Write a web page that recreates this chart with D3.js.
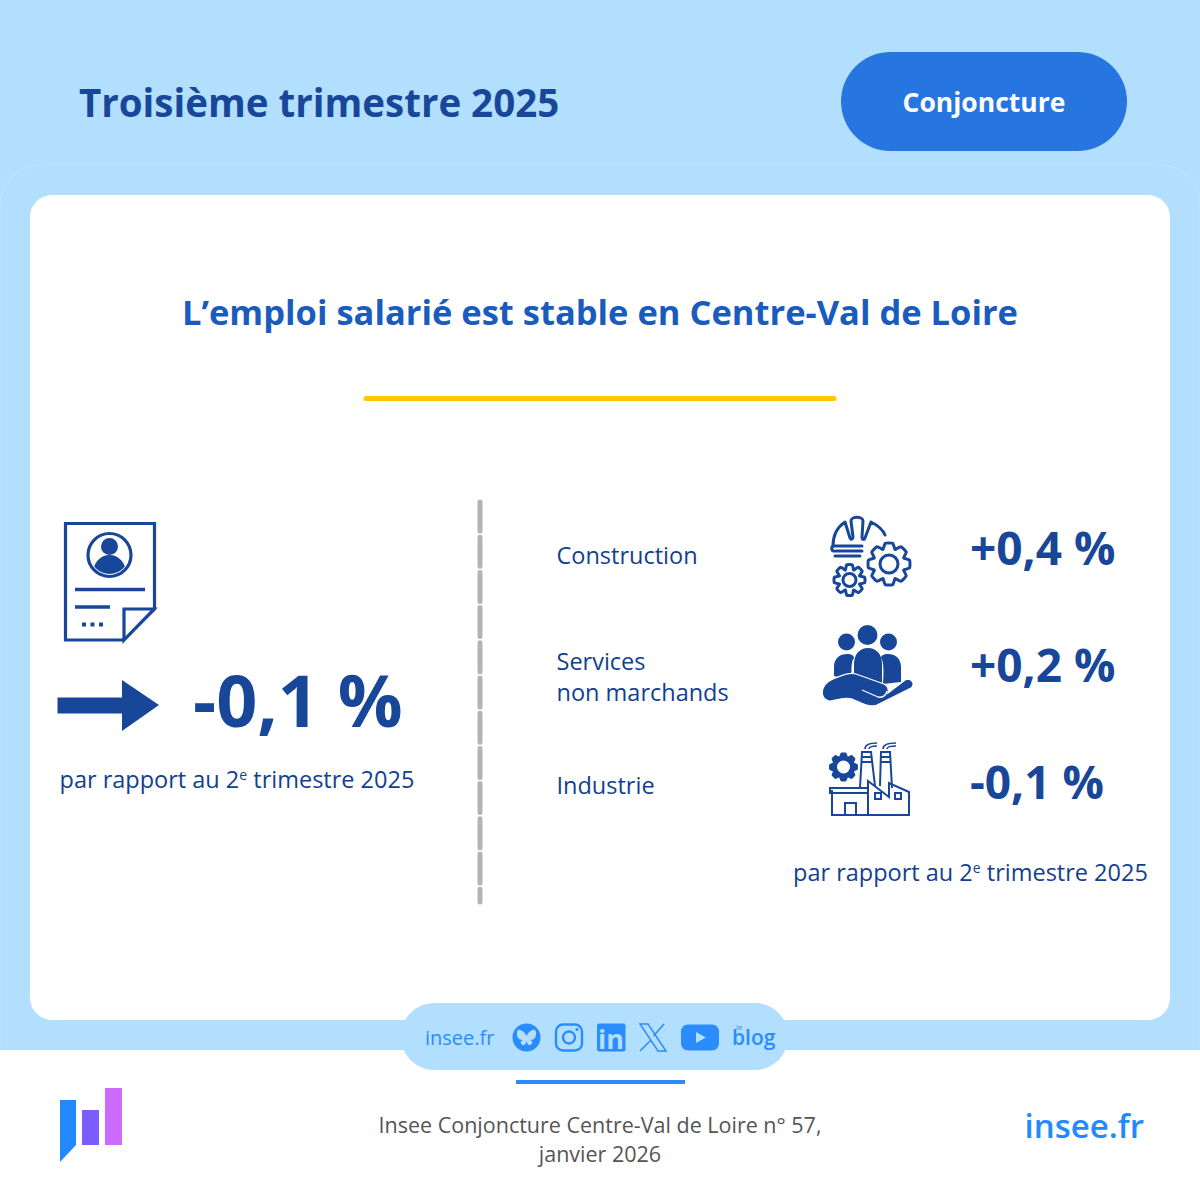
<!DOCTYPE html>
<html>
<head>
<meta charset="utf-8">
<script src="https://cdn.jsdelivr.net/npm/d3@7"></script>
<style>
html,body{margin:0;padding:0;background:#fff}
svg{display:block}
text{font-family:"Open Sans",sans-serif}
</style>
</head>
<body>
<svg id="chart"></svg>
<script>
const titleText = "Troisième trimestre 2025";
const tagText = "Conjoncture";
const headline = "L’emploi salarié est stable en Centre-Val de Loire";
const mainValue = "-0,1 %";
const sectors = [["Construction"], ["Services", "non marchands"], ["Industrie"]];
const sectorValues = ["+0,4 %", "+0,2 %", "-0,1 %"];
const sourceLines = ["Insee Conjoncture Centre-Val de Loire n° 57,", "janvier 2026"];

const BLUE = "#18479a", SKY = "#b3dfff", LINK = "#2b8cff";

const svg = d3.select("#chart").attr("width", 1200).attr("height", 1200).attr("viewBox", "0 0 1200 1200");

function rect(g, x, y, w, h, r, fill) {
  return g.append("rect").attr("x", x).attr("y", y).attr("width", w).attr("height", h).attr("rx", r || 0).attr("fill", fill);
}
function label(g, x, y, txt, size, weight, fill, anchor) {
  return g.append("text").attr("x", x).attr("y", y).attr("font-size", size).attr("font-weight", weight)
    .attr("fill", fill).attr("text-anchor", anchor || "start").text(txt);
}
function comparison(g, x, y) {
  const t = g.append("text").attr("x", x).attr("y", y).attr("font-size", 23.5).attr("fill", "#123f8f");
  t.append("tspan").text("par rapport au 2");
  t.append("tspan").attr("font-size", 14).attr("dy", -8).text("e");
  t.append("tspan").attr("dy", 8).text(" trimestre 2025");
}

// background
rect(svg, 0, 0, 1200, 1200, 0, "#fff");
rect(svg, 0, 0, 1200, 1050, 0, SKY);
svg.append("path").attr("d", "M0 1050V205a40 40 0 0 1 40-40H1160a40 40 0 0 1 40 40V1050")
  .attr("fill", "none").attr("stroke", "#bde3ff").attr("stroke-width", 1.5);
rect(svg, 30, 195, 1140, 825, 22, "#fff");

// header
label(svg, 79, 117, titleText, 38.5, 700, "#18479a");
rect(svg, 841, 52, 286, 99, 49.5, "#2775e0");
label(svg, 984, 112, tagText, 26.5, 700, "#fff", "middle");

// headline
label(svg, 600, 325, headline, 34.5, 700, "#1a5cbd", "middle");
svg.append("line").attr("x1", 366).attr("x2", 834).attr("y1", 398.5).attr("y2", 398.5)
  .attr("stroke", "#ffc800").attr("stroke-width", 5).attr("stroke-linecap", "round");

// dashed separator
svg.append("line").attr("x1", 480).attr("x2", 480).attr("y1", 502).attr("y2", 902)
  .attr("stroke", "#b4b4b4").attr("stroke-width", 5).attr("stroke-linecap", "round")
  .attr("stroke-dasharray", "29 6.2");

// left block: document icon
const doc = svg.append("g").attr("transform", "translate(64,522)").attr("fill", "none").attr("stroke", BLUE);
doc.append("path").attr("d", "M1.5 1.5H90.5V87L59 118H1.5Z").attr("stroke-width", 3.2);
doc.append("path").attr("d", "M90 87H60V118Z").attr("stroke-width", 3.2).attr("fill", "#fff");
doc.append("circle").attr("cx", 45.5).attr("cy", 33).attr("r", 21.5).attr("stroke-width", 3.2);
doc.append("clipPath").attr("id", "head").append("circle").attr("cx", 45.5).attr("cy", 33).attr("r", 19);
const person = doc.append("g").attr("clip-path", "url(#head)").attr("fill", BLUE).attr("stroke", "none");
person.append("circle").attr("cx", 45.5).attr("cy", 24.5).attr("r", 8.5);
person.append("ellipse").attr("cx", 45.5).attr("cy", 51).attr("rx", 16.5).attr("ry", 18);
doc.append("path").attr("d", "M11 67.5H81M11 85H46").attr("stroke-width", 3.6);
doc.append("path").attr("d", "M18 102.5H39").attr("stroke-width", 4).attr("stroke-dasharray", "4 4.5");

// left block: arrow and value
svg.append("path").attr("fill", BLUE).attr("d", "M57.5 697.5H122V680L159 705L122 731V713.5H57.5Z");
label(svg, 193, 727, mainValue, 72, 700, BLUE);
comparison(svg, 59.5, 788);

// right block rows
const rowY = d3.scalePoint().domain(d3.range(sectors.length)).range([550, 784]);
const labelY = d3.scalePoint().domain(d3.range(sectors.length)).range([564, 794]);

const rows = svg.selectAll("g.row").data(sectors).join("g").attr("class", "row");
rows.each(function (lines, i) {
  const g = d3.select(this);
  const base = lines.length > 1 ? labelY(i) - 9 : labelY(i);
  lines.forEach((l, j) => label(g, 556.5, base + j * 31, l, 23.5, 400, "#123f8f"));
  label(g, 970, rowY(i) + 15, sectorValues[i], 46, 700, BLUE);
});
comparison(svg, 793, 881);

// gear helper, outer radius R
function gearPath(cx, cy, R, r, teeth) {
  const pts = [];
  for (let k = 0; k < teeth; k++) {
    const a = k * 2 * Math.PI / teeth, s = Math.PI / teeth;
    [[r, -s * .95], [R, -s * .45], [R, s * .45], [r, s * .95]].forEach(([rad, d]) =>
      pts.push([cx + rad * Math.cos(a + d), cy + rad * Math.sin(a + d)]));
  }
  return d3.line().curve(d3.curveCardinalClosed.tension(.6))(pts);
}

// construction icon
const build = svg.append("g").attr("fill", "none").attr("stroke", BLUE).attr("stroke-width", 3)
  .attr("stroke-linecap", "round").attr("stroke-linejoin", "round");
build.append("path").attr("d", "M833 546C833 533 839 526 845 522L850 538C851 540 853 539 853 537L851 521C851 516 863 516 863 521L862 537C862 540 864 540 865 538L871 522C877 525 883 530 885 535");
build.append("path").attr("d", "M836 551H862M834 551C831 551 831 546 834 546H862M835 556H860");
build.append("path").attr("d", gearPath(889, 564, 21, 16, 8));
build.append("circle").attr("cx", 889).attr("cy", 564).attr("r", 9);
build.append("path").attr("d", gearPath(849.5, 580, 15.5, 11, 8));
build.append("circle").attr("cx", 849.5).attr("cy", 580).attr("r", 6.5);

// services icon
const care = svg.append("g").attr("fill", BLUE);
care.append("circle").attr("cx", 846.5).attr("cy", 642).attr("r", 8.5);
care.append("circle").attr("cx", 867.5).attr("cy", 635).attr("r", 10);
care.append("circle").attr("cx", 888.5).attr("cy", 642).attr("r", 8.5);
care.append("path").attr("d", "M834 676V667C834 658 840 654 847 654C852 654 854 656 854 658C850 662 852 680 852 680Z");
care.append("path").attr("d", "M901 682V667C901 658 895 654 888 654C883 654 881 656 881 658C885 662 883 684 883 684Z");
care.append("path").attr("d", "M854 680V664C854 654 860 648 868 648C876 648 882 654 882 664V684Z");
care.append("path").attr("stroke", "#fff").attr("stroke-width", 1.2)
  .attr("d", "M833 679C843 675 850 672 856 674L884 684C888 686 889 690 888 693L905 680C911 677 916 684 911 688L877 705C868 708 862 703 852 699C842 696 834 702 829 701C819 698 820 685 833 679Z");
care.append("path").attr("d", "M862 690L878 697C883 698 886 695 887 691").attr("fill", "none").attr("stroke", "#fff").attr("stroke-width", 1.3);

// industry icon
const factory = svg.append("g").attr("fill", "none").attr("stroke", BLUE).attr("stroke-width", 2);
factory.append("path").attr("fill", BLUE).attr("stroke", "none").attr("fill-rule", "evenodd")
  .attr("d", gearPath(843.5, 767, 14.5, 11.5, 8) + "M850 767A6.5 6.5 0 1 0 837 767A6.5 6.5 0 1 0 850 767Z");
factory.append("path").attr("d", "M832 790V815H909V792L889 783V797L868 781V815M830 788H868V793H830Z");
factory.append("path").attr("d", "M845 815V803H856V815M875 793H881V799H875ZM895 793H901V799H895Z");
factory.append("path").attr("d", "M860 788L862 752H871L875 786M880 786L881 752H890L892 788M861 757H871M861 762H872M881 757H890M881 762H891");
factory.append("path").attr("d", "M865 749C865 745 870 743 877 743M869 749C869 747 871 746 877 746M883 749C883 745 888 743 896 743M887 749C887 747 890 746 896 746").attr("stroke-width", 1.6);

// social pill
rect(svg, 401, 1003, 387, 67, 33, SKY);
label(svg, 425, 1045, "insee.fr", 20, 500, LINK);
const social = svg.append("g");
social.append("circle").attr("cx", 526.5).attr("cy", 1037.5).attr("r", 14).attr("fill", LINK);
social.append("path").attr("fill", SKY).attr("d", "M526.5 1036C525 1032 520 1029 518 1030C516 1031 517 1038 519 1039C521 1040 523 1040 523 1040C520 1041 520 1044 523 1045C525 1046 526 1043 526.5 1041C527 1043 528 1046 530 1045C533 1044 533 1041 530 1040C530 1040 532 1040 534 1039C536 1038 537 1031 535 1030C533 1029 528 1032 526.5 1036Z");
social.append("rect").attr("x", 556).attr("y", 1024.5).attr("width", 26).attr("height", 26).attr("rx", 7)
  .attr("fill", "none").attr("stroke", LINK).attr("stroke-width", 2.4);
social.append("circle").attr("cx", 569).attr("cy", 1037.5).attr("r", 6).attr("fill", "none").attr("stroke", LINK).attr("stroke-width", 2.4);
social.append("circle").attr("cx", 577).attr("cy", 1029.5).attr("r", 1.6).attr("fill", LINK);
rect(social, 597, 1023.5, 28.5, 28, 2, LINK);
social.append("text").attr("x", 611).attr("y", 1048.5).attr("text-anchor", "middle").attr("font-size", 27)
  .attr("font-weight", 700).attr("fill", SKY).text("in");
social.append("path").attr("fill", "none").attr("stroke", LINK).attr("stroke-width", 1.5)
  .attr("d", "M640 1024H648L666 1051H658ZM664 1024L653.5 1036M651 1040L640 1051");
rect(social, 681, 1024.5, 38, 26, 7, LINK);
social.append("path").attr("fill", SKY).attr("d", "M696 1032L706 1037.5L696 1043Z");
social.append("text").attr("x", 732).attr("y", 1045).attr("font-size", 21).attr("font-weight", 600).attr("fill", LINK).text("blog");
social.append("text").attr("x", 736).attr("y", 1030).attr("font-size", 8).attr("fill", LINK).text("le");
rect(svg, 516, 1080, 169, 4, 0, LINK);

// footer
const logo = svg.append("g");
logo.append("path").attr("fill", "#2389ff").attr("d", "M60 1100H76V1145L60 1162Z");
rect(logo, 82, 1110, 17, 35, 0, "#7a5cff");
rect(logo, 105, 1088, 17, 57, 0, "#cc6cff");
sourceLines.forEach((l, i) => label(svg, 600, 1133 + i * 29, l, 21.5, 400, "#555", "middle"));
label(svg, 1144, 1138, "insee.fr", 33, 600, "#2389ff", "end");
</script>
</body>
</html>
